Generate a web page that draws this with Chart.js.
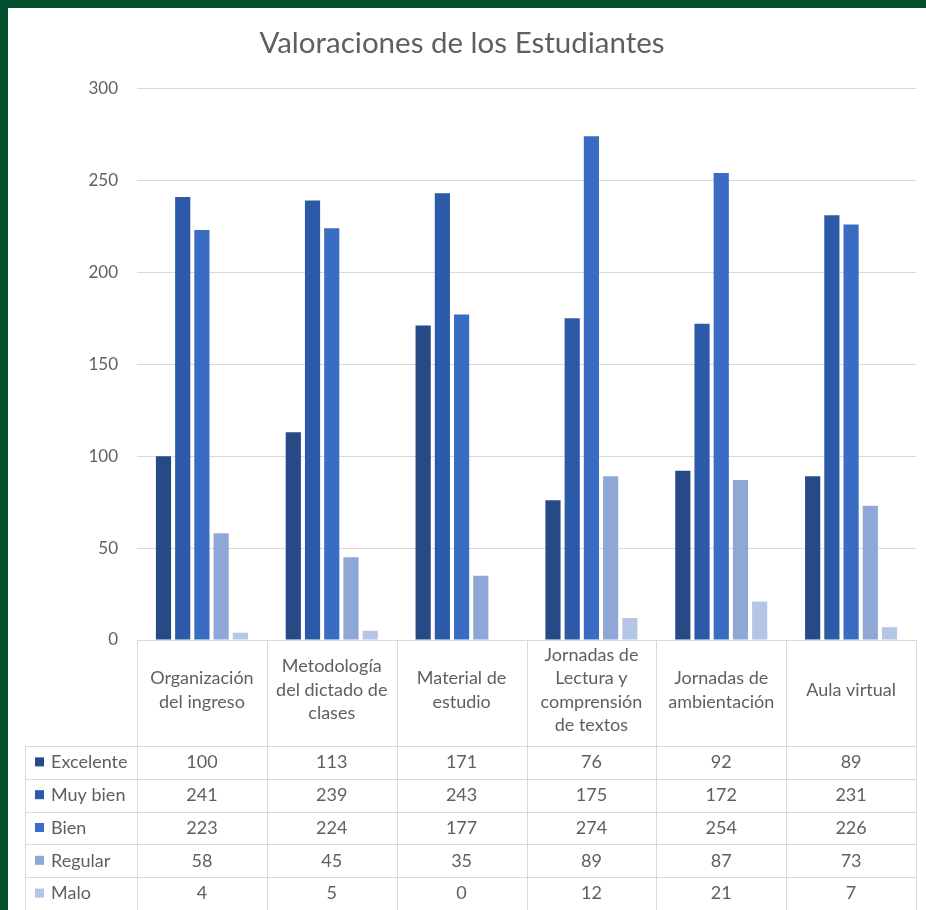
<!DOCTYPE html>
<html>
<head>
<meta charset="utf-8">
<script src="https://cdn.jsdelivr.net/npm/chart.js@4.4.0/dist/chart.umd.min.js"></script>
<style>
  html, body { margin: 0; padding: 0; background: #034f2d; }
  #wrap { position: absolute; left: 8px; top: 8px; width: 918px; height: 902px; background: #fff; }
</style>
</head>
<body>
<div id="wrap"><canvas id="grafico" width="918" height="902"></canvas></div>
<script>
const categorias = [
  ["Organización", "del ingreso"],
  ["Metodología", "del dictado de", "clases"],
  ["Material de", "estudio"],
  ["Jornadas de", "Lectura y", "comprensión", "de textos"],
  ["Jornadas de", "ambientación"],
  ["Aula virtual"],
];
const series = ["Excelente", "Muy bien", "Bien", "Regular", "Malo"];
const excelente = [100, 113, 171, 76, 92, 89];
const muyBien = [241, 239, 243, 175, 172, 231];
const bien = [223, 224, 177, 274, 254, 226];
const regular = [58, 45, 35, 89, 87, 73];
const malo = [4, 5, 0, 12, 21, 7];
const colores = ["#264a86", "#2d5aa8", "#3b6cc4", "#8ea7d7", "#b5c5e6"];
const valores = [excelente, muyBien, bien, regular, malo];

const gris = "#5f5f5f";
const fuente = "Lato, 'Open Sans', sans-serif";

// tabla de datos debajo del grafico (como en Excel)
const tablaDatos = {
  id: "tablaDatos",
  afterDraw(chart) {
    const { ctx, chartArea: a, scales } = chart;
    const n = categorias.length;
    const colW = (a.right - a.left) / n;
    const headTop = a.bottom;
    const headBottom = a.bottom + 106;
    const rowH = 32.8;
    const izq = 17;
    const fondo = chart.height;

    ctx.save();
    ctx.strokeStyle = "#d9d9d9";
    ctx.lineWidth = 1;
    ctx.beginPath();
    for (let i = 0; i <= n; i++) {
      const x = Math.round(a.left + i * colW) + 0.5;
      ctx.moveTo(x, headTop);
      ctx.lineTo(x, fondo);
    }
    ctx.moveTo(izq + 0.5, headBottom);
    ctx.lineTo(izq + 0.5, fondo);
    for (let r = 0; r <= series.length; r++) {
      const y = Math.round(headBottom + r * rowH) + 0.5;
      ctx.moveTo(izq, y);
      ctx.lineTo(a.right, y);
    }
    ctx.stroke();

    ctx.fillStyle = gris;
    ctx.font = "18px " + fuente;
    ctx.textAlign = "center";
    ctx.textBaseline = "middle";
    const lh = 23.5;
    categorias.forEach((lineas, i) => {
      const cx = scales.x.getPixelForValue(i);
      const cy = (headTop + headBottom) / 2 - 3;
      lineas.forEach((t, k) => {
        ctx.fillText(t, cx, cy + (k - (lineas.length - 1) / 2) * lh);
      });
    });

    series.forEach((s, r) => {
      const cy = headBottom + r * rowH + rowH / 2;
      ctx.fillStyle = colores[r];
      ctx.fillRect(izq + 10, cy - 5, 9, 9);
      ctx.fillStyle = gris;
      ctx.textAlign = "left";
      ctx.fillText(s, izq + 26, cy);
      ctx.textAlign = "center";
      valores[r].forEach((v, i) => {
        ctx.fillText(String(v), scales.x.getPixelForValue(i), cy);
      });
    });
    ctx.restore();
  },
};

new Chart(document.getElementById("grafico"), {
  type: "bar",
  data: {
    labels: categorias,
    datasets: series.map((s, i) => ({
      label: s,
      data: valores[i],
      backgroundColor: colores[i],
      categoryPercentage: 0.74,
      barPercentage: 0.79,
    })),
  },
  options: {
    responsive: false,
    animation: false,
    layout: { padding: { top: 12, right: 10, bottom: 270, left: 0 } },
    plugins: {
      legend: { display: false },
      tooltip: { enabled: false },
      title: {
        display: true,
        text: "Valoraciones de los Estudiantes",
        color: gris,
        font: { family: fuente, size: 29.5, weight: "normal" },
        padding: { top: 6, bottom: 27 },
      },
    },
    scales: {
      x: { display: false },
      y: {
        min: 0,
        max: 300,
        ticks: {
          stepSize: 50,
          color: gris,
          padding: 19,
          font: { family: fuente, size: 17 },
        },
        grid: { color: "#d9d9d9", drawTicks: false },
        border: { display: false },
        afterFit(scale) {
          scale.width = 129;
        },
      },
    },
  },
  plugins: [tablaDatos],
});
</script>
</body>
</html>
